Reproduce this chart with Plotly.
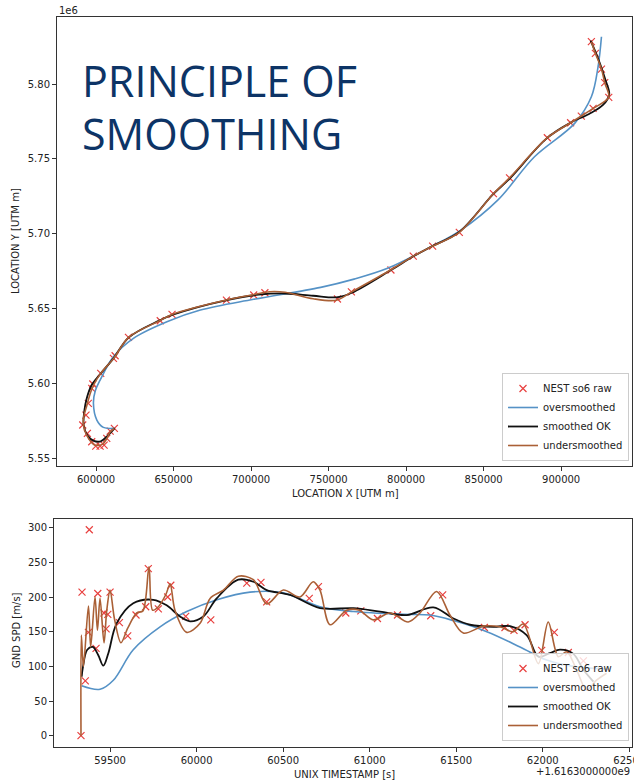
import plotly.graph_objects as go

# ---------------- top chart data (UTM metres) ----------------
raw_x = [611800, 609100, 606900, 605200, 602600, 599800, 597200, 594400, 591400, 593500,
         595000, 597200, 597900, 603000, 611200, 612300, 620900, 641400, 649000, 684100,
         701700, 708900, 755700, 764700, 790200, 804600, 817100, 834300, 856300, 866700,
         891100, 906100, 913000, 920600, 930700, 928100, 926000, 922100, 919500]
raw_y = [5.5699e6, 5.5680e6, 5.5632e6, 5.5587e6, 5.5580e6, 5.5580e6, 5.5609e6, 5.5665e6, 5.5721e6, 5.5787e6,
         5.5866e6, 5.5966e6, 5.5995e6, 5.6066e6, 5.6166e6, 5.6184e6, 5.6307e6, 5.6418e6, 5.6460e6, 5.6556e6,
         5.6590e6, 5.6605e6, 5.6563e6, 5.6611e6, 5.6757e6, 5.6850e6, 5.6917e6, 5.7009e6, 5.7267e6, 5.7373e6,
         5.7641e6, 5.7741e6, 5.7786e6, 5.7837e6, 5.7911e6, 5.8009e6, 5.8100e6, 5.8205e6, 5.8283e6]

over_x = [611800, 604700, 600500, 598300, 599500, 602600, 611200, 624100, 645700, 667300, 701700,
          744900, 766400, 788000, 816000, 835400, 859100, 882800, 908700, 919500, 923800, 926000]
over_y = [5.5699e6, 5.5705e6, 5.5754e6, 5.5866e6, 5.5950e6, 5.6021e6, 5.6177e6, 5.6300e6, 5.6411e6, 5.6489e6, 5.6561e6,
          5.6641e6, 5.6696e6, 5.6768e6, 5.6912e6, 5.7024e6, 5.7224e6, 5.7514e6, 5.7737e6, 5.7915e6, 5.8115e6, 5.8316e6]

ok_x = [612000, 607500, 603000, 598500, 594500, 592000, 592500, 594000, 597000, 603000, 611500, 621000,
        641000, 650000, 683000, 705000, 722000, 740000, 756000, 765000, 790000, 805000, 817000, 834000,
        856000, 867000, 891000, 906000, 918000, 927000, 931000, 928500, 923500, 919000]
ok_y = [5.5700e6, 5.5650e6, 5.5612e6, 5.5615e6, 5.5650e6, 5.5720e6, 5.5820e6, 5.5900e6, 5.5985e6, 5.6065e6, 5.6170e6, 5.6305e6,
        5.6420e6, 5.6460e6, 5.6553e6, 5.6592e6, 5.6600e6, 5.6585e6, 5.6575e6, 5.6605e6, 5.6755e6, 5.6850e6, 5.6917e6, 5.7009e6,
        5.7262e6, 5.7370e6, 5.7640e6, 5.7741e6, 5.7800e6, 5.7860e6, 5.7930e6, 5.8030e6, 5.8180e6, 5.8290e6]

under_x = [611800, 609100, 606900, 604500, 601500, 598500, 595500, 592500, 591800, 594000, 596500, 598500,
           603000, 611500, 621000, 641000, 649000, 684000, 702000, 712000, 722000, 740000, 755000, 765000,
           790000, 804600, 817100, 834300, 856300, 866700, 891100, 906100, 913000, 920600, 930700, 928100,
           926000, 922100, 919500]
under_y = [5.5699e6, 5.5675e6, 5.5630e6, 5.5595e6, 5.5585e6, 5.5590e6, 5.5625e6, 5.5690e6, 5.5760e6, 5.5850e6, 5.5940e6, 5.5990e6,
           5.6066e6, 5.6168e6, 5.6307e6, 5.6418e6, 5.6460e6, 5.6556e6, 5.6593e6, 5.6612e6, 5.6608e6, 5.6565e6, 5.6555e6, 5.6612e6,
           5.6757e6, 5.6850e6, 5.6917e6, 5.7009e6, 5.7267e6, 5.7373e6, 5.7641e6, 5.7741e6, 5.7786e6, 5.7837e6, 5.7911e6, 5.8009e6,
           5.8100e6, 5.8205e6, 5.8283e6]

top_xticks = [600000, 650000, 700000, 750000, 800000, 850000, 900000]
top_yticks = [5.55e6, 5.60e6, 5.65e6, 5.70e6, 5.75e6, 5.80e6]
top_yticktext = ["5.55", "5.60", "5.65", "5.70", "5.75", "5.80"]

# ---------------- bottom chart data (time offset from 1.6163e9 s, speed m/s) ----------------
spd_t = [59332, 59338, 59357, 59375, 59380, 59419, 59429, 59465, 59477, 59487, 59500, 59554, 59602,
         59650, 59706, 59721, 59779, 59833, 59851, 59937, 60082, 60290, 60372, 60405, 60651, 60704,
         60862, 60949, 61045, 61161, 61353, 61422, 61663, 61782, 61834, 61898, 61994, 62067, 62148, 62235]
spd_v = [0, 207, 79, 149, 297, 126, 205, 177, 154, 175, 207, 163, 144,
         174, 186, 241, 183, 200, 217, 172, 167, 220, 221, 193, 198, 215,
         177, 180, 169, 174, 173, 203, 156, 156, 152, 160, 123, 149, 120, 108]

over_t = [59336, 59442, 59519, 59634, 59789, 59943, 60118, 60309, 60501, 60713, 60906, 61195,
          61349, 61484, 61677, 61869, 62023, 62177, 62380]
over_v = [72, 67, 80, 124, 157, 179, 196, 207, 206, 186, 179, 175, 174, 166, 150, 128, 109, 100, 96]

ok_t = [59336, 59342, 59368, 59400, 59432, 59461, 59490, 59538, 59634, 59750, 59827, 59904, 59962,
        60039, 60116, 60241, 60328, 60405, 60540, 60713, 60906, 61060, 61214, 61368, 61484, 61580,
        61715, 61811, 61907, 61975, 62042, 62100, 62177, 62235, 62293]
ok_v = [85, 97, 124, 128, 116, 101, 119, 162, 191, 196, 188, 172, 165,
        172, 198, 225, 222, 210, 203, 184, 184, 179, 174, 185, 169, 160,
        157, 158, 145, 114, 119, 124, 118, 95, 78]

under_t = [59332, 59334, 59346, 59375, 59388, 59413, 59427, 59442, 59465, 59481, 59500, 59525, 59563,
           59602, 59654, 59690, 59725, 59746, 59779, 59823, 59847, 59875, 59943, 60020, 60078, 60155,
           60241, 60328, 60405, 60501, 60597, 60674, 60713, 60771, 60867, 60940, 61021, 61118, 61223,
           61291, 61387, 61464, 61541, 61657, 61753, 61830, 61888, 61975, 62032, 62090, 62138, 62196,
           62254, 62311, 62369]
under_v = [0, 145, 100, 187, 128, 200, 152, 198, 134, 181, 210, 169, 134,
           155, 177, 180, 244, 181, 186, 204, 219, 181, 149, 162, 198, 210,
           230, 225, 190, 210, 200, 222, 210, 160, 181, 181, 167, 177, 164,
           177, 208, 174, 148, 158, 157, 150, 161, 104, 164, 114, 121, 95,
           66, 80, 90]

bot_xticks = [59500, 60000, 60500, 61000, 61500, 62000, 62500]
bot_yticks = [0, 50, 100, 150, 200, 250, 300]

# ---------------- styling ----------------
RED = "#e8403f"
BLUE = "#5592c6"
BLACK = "#111111"
BROWN = "#aa6036"
FONT = "DejaVu Sans"

fig = go.Figure()

def add_set(rx, ry, ox, oy, kx, ky, ux, uy, xa, ya, leg):
    fig.add_trace(go.Scatter(x=rx, y=ry, mode="markers", name="NEST so6 raw",
                             marker=dict(symbol="x-thin", size=7, color=RED, line=dict(width=1.2, color=RED)),
                             xaxis=xa, yaxis=ya, legend=leg))
    fig.add_trace(go.Scatter(x=ox, y=oy, mode="lines", name="oversmoothed", line=dict(color=BLUE, width=1.6, shape="spline"),
                             xaxis=xa, yaxis=ya, legend=leg))
    fig.add_trace(go.Scatter(x=kx, y=ky, mode="lines", name="smoothed OK", line=dict(color=BLACK, width=1.8, shape="spline"),
                             xaxis=xa, yaxis=ya, legend=leg))
    fig.add_trace(go.Scatter(x=ux, y=uy, mode="lines", name="undersmoothed", line=dict(color=BROWN, width=1.6, shape="spline", smoothing=0.9),
                             xaxis=xa, yaxis=ya, legend=leg))

add_set(raw_x, raw_y, over_x, over_y, ok_x, ok_y, under_x, under_y, "x", "y", "legend")
add_set(spd_t, spd_v, over_t, over_v, ok_t, ok_v, under_t, under_v, "x2", "y2", "legend2")

L, R, T, B = 54, 2, 17, 36
W, H = 634, 783
PW, PH = W - L - R, H - T - B

def px_x(p):
    return (p - L) / PW

def px_y(p):
    return (H - p - B) / PH

axis_common = dict(showline=True, mirror=True, linecolor="#333333", linewidth=1, ticks="outside",
                   ticklen=4, tickcolor="#333333", showgrid=False, zeroline=False, automargin=False,
                   tickfont=dict(family=FONT, size=10, color="#222222"))

legend_common = dict(xanchor="right", yanchor="bottom", bgcolor="rgba(255,255,255,0.8)",
                     bordercolor="#cccccc", borderwidth=1, font=dict(family=FONT, size=10, color="#222222"))

fig.update_layout(
    width=W, height=H, margin=dict(l=L, r=R, t=T, b=B, autoexpand=False),
    paper_bgcolor="white", plot_bgcolor="white",
    xaxis=dict(domain=[px_x(57), 1], range=[574800, 945700], tickvals=top_xticks, tickformat="d",
               anchor="y", **axis_common),
    yaxis=dict(domain=[px_y(466), 1], range=[5.5447e6, 5.8448e6], tickvals=top_yticks, ticktext=top_yticktext,
               anchor="x", **axis_common),
    xaxis2=dict(domain=[0, 1], range=[59176, 62516], tickvals=bot_xticks, tickformat="d",
                anchor="y2", ticklabeloverflow="allow", **axis_common),
    yaxis2=dict(domain=[0, px_y(519)], range=[-16.3, 312.5], tickvals=bot_yticks,
                anchor="x2", **axis_common),
    legend=dict(x=px_x(629), y=px_y(461), **legend_common),
    legend2=dict(x=px_x(629), y=px_y(741), **legend_common),
    showlegend=True,
)

ann_font = dict(family=FONT, size=10, color="#222222")
annotations = [
    dict(text="1e6", x=px_x(57), y=px_y(10), xanchor="left", yanchor="middle", font=ann_font),
    dict(text="LOCATION X [UTM m]", x=px_x(345), y=px_y(493), xanchor="center", yanchor="middle", font=ann_font),
    dict(text="LOCATION Y [UTM m]", x=px_x(16), y=px_y(241), xanchor="center", yanchor="middle", textangle=-90, font=ann_font),
    dict(text="GND SPD [m/s]", x=px_x(16), y=px_y(630), xanchor="center", yanchor="middle", textangle=-90, font=ann_font),
    dict(text="UNIX TIMESTAMP [s]", x=px_x(344), y=px_y(774), xanchor="center", yanchor="middle", font=ann_font),
    dict(text="+1.6163000000e9", x=1, y=px_y(772), xanchor="right", yanchor="middle", font=ann_font),
    dict(text="PRINCIPLE OF", x=px_x(80), y=px_y(81), xanchor="left", yanchor="middle",
         font=dict(family="Open Sans", size=43, color="#0d3466")),
    dict(text="SMOOTHING", x=px_x(80), y=px_y(133), xanchor="left", yanchor="middle",
         font=dict(family="Open Sans", size=43, color="#0d3466")),
]
for a in annotations:
    a.update(xref="paper", yref="paper", showarrow=False)
fig.update_layout(annotations=annotations)

fig.write_html("out.html", config={"displayModeBar": False},
               post_script="document.body.style.margin='0';")
